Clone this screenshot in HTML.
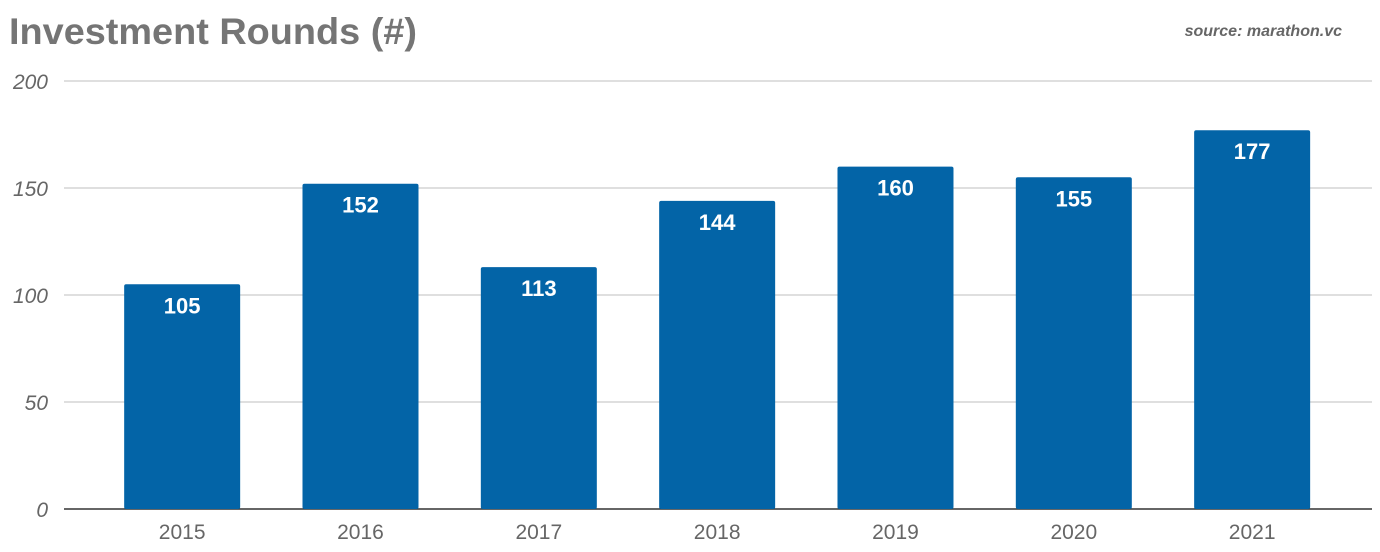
<!DOCTYPE html>
<html><head><meta charset="utf-8"><style>
html,body{margin:0;padding:0;background:#fff;}
svg{display:block;font-family:"Liberation Sans",sans-serif;}
</style></head><body>
<svg id="chart" width="1380" height="552">
<text x="9" y="44" font-size="37" font-weight="bold" fill="#757575" textLength="408" lengthAdjust="spacingAndGlyphs">Investment Rounds (#)</text>
<text x="1342" y="36" font-size="16" font-weight="bold" font-style="italic" fill="#666" text-anchor="end">source: marathon.vc</text>
<g id="grid"></g>
<g id="bars"></g>
<g id="xlabels"></g>
</svg>
<script>
const categories = ["2015","2016","2017","2018","2019","2020","2021"];
const values = [105,152,113,144,160,155,177];
const yTicks = [0,50,100,150,200];
const NS="http://www.w3.org/2000/svg";
const y0=509, y200=81;
function y(v){return y0-(y0-y200)*v/200;}
const bandStart=93, step=178.33, barW=116;
function xc(i){return bandStart+step*(i+0.5);}
function mk(tag,attrs,parent){const e=document.createElementNS(NS,tag);for(const k in attrs)e.setAttribute(k,attrs[k]);parent.appendChild(e);return e;}
const grid=document.getElementById('grid');
yTicks.forEach(t=>{
  const l=mk('line',{x1:64,x2:1372,y1:y(t),y2:y(t),stroke:t===0?'#333':'#ccc','stroke-width':t===0?1.5:1.2},grid);
  
  
  const tx=mk('text',{x:48,y:y(t)+8,'font-size':21,'font-style':'italic',fill:'#666','text-anchor':'end'},grid);
  tx.textContent=t;
  
  
});
const bars=document.getElementById('bars'), xl=document.getElementById('xlabels');
categories.forEach((c,i)=>{
  const r=mk('rect',{x:xc(i)-barW/2,y:y(values[i]),width:barW,height:y0-y(values[i]),fill:'#0364a7',rx:2},bars);
  
  
  const v=mk('text',{x:xc(i),y:y(values[i])+29,'font-size':22,'font-weight':'bold',fill:'#fff','text-anchor':'middle'},bars);
  v.textContent=values[i];
  
  
  const t=mk('text',{x:xc(i),y:539,'font-size':21,fill:'#666','text-anchor':'middle'},xl);
  t.textContent=c;
  
  
});
</script>
</body></html>
